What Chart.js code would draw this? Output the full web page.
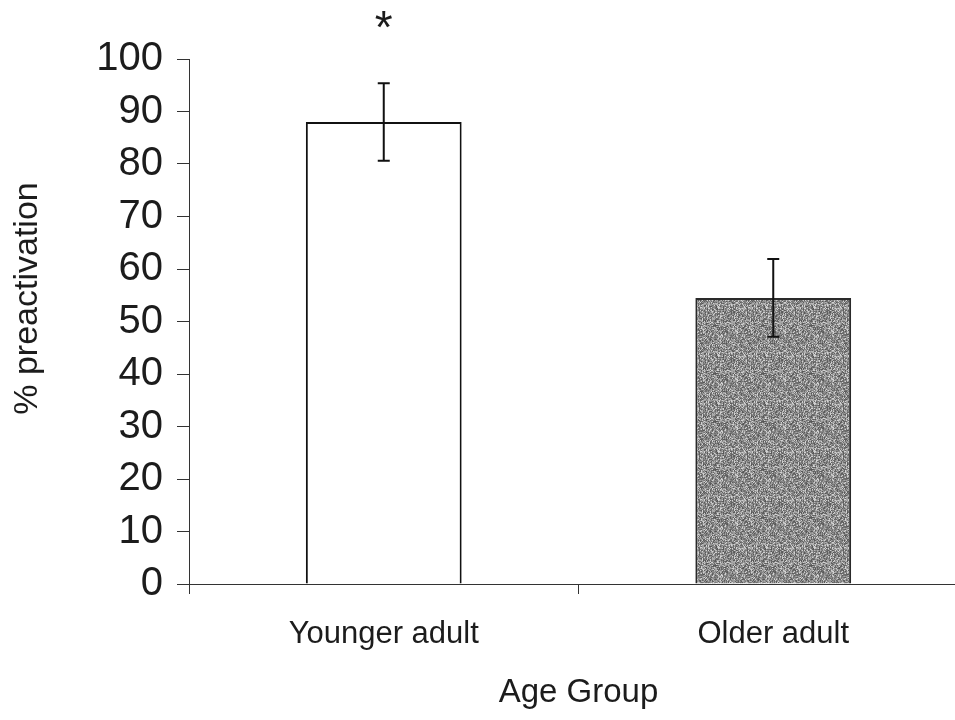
<!DOCTYPE html>
<html lang="en">
<head>
<meta charset="UTF-8">
<title>% preactivation by Age Group</title>
<style>
body { margin: 0; background: #fff; overflow: hidden; }
.chart-box { width: 968px; height: 720px; }
</style>
</head>
<body>
<div class="chart-box">
    <canvas id="ageChart" width="968" height="720"></canvas>
</div>
<script src="https://cdn.jsdelivr.net/npm/chart.js"></script>
<script>
// data
const groups = ['Younger adult', 'Older adult'];
const preactivation = [88, 54.5];
const errors = [7.4, 7.4];
const sigMarks = ['*', ''];
const yTicks = [0, 10, 20, 30, 40, 50, 60, 70, 80, 90, 100];
const yTitle = '% preactivation';

const FONT = "'Liberation Sans', Arial, sans-serif";
const INK = '#1c1c1c';

// grainy grey fill like the scanned bar (deterministic stipple)
function stipple() {
    const c = document.createElement('canvas');
    c.width = 48; c.height = 48;
    const g = c.getContext('2d');
    const img = g.createImageData(48, 48);
    for (let y = 0; y < 48; y++) {
        for (let x = 0; x < 48; x++) {
            let h = (x * 374761393 + y * 668265263) >>> 0;
            h = ((h ^ (h >>> 13)) * 1274126177) >>> 0;
            h = (h ^ (h >>> 16)) >>> 0;
            let v = 85 + (h % 100);
            if (h % 9 === 0) v = 210;
            const k = (y * 48 + x) * 4;
            img.data[k] = img.data[k + 1] = img.data[k + 2] = v;
            img.data[k + 3] = 255;
        }
    }
    g.putImageData(img, 0, 0);
    return g.createPattern(c, 'repeat');
}

// error bars + significance star
const errorBars = {
    id: 'errorBars',
    afterDatasetsDraw(chart) {
        const ctx = chart.ctx;
        const yScale = chart.scales.y;
        const bars = chart.getDatasetMeta(0).data;
        ctx.save();
        ctx.strokeStyle = '#111';
        ctx.lineWidth = 2;
        bars.forEach((bar, i) => {
            const top = yScale.getPixelForValue(preactivation[i] + errors[i]);
            const bot = yScale.getPixelForValue(preactivation[i] - errors[i]);
            ctx.beginPath();
            ctx.moveTo(bar.x, top); ctx.lineTo(bar.x, bot);
            ctx.moveTo(bar.x - 6, top); ctx.lineTo(bar.x + 6, top);
            ctx.moveTo(bar.x - 6, bot); ctx.lineTo(bar.x + 6, bot);
            ctx.stroke();
            if (sigMarks[i]) {
                ctx.fillStyle = INK;
                ctx.font = '46px ' + FONT;
                ctx.textAlign = 'center';
                ctx.textBaseline = 'alphabetic';
                ctx.fillText(sigMarks[i], bar.x, top - 40);
            }
        });
        ctx.restore();
    }
};

// y title sits a little above the middle of the axis in the original
const yAxisTitle = {
    id: 'yAxisTitle',
    afterDraw(chart) {
        const ctx = chart.ctx;
        const area = chart.chartArea;
        ctx.save();
        ctx.translate(28, (area.top + area.bottom) / 2 - 23);
        ctx.rotate(-Math.PI / 2);
        ctx.fillStyle = INK;
        ctx.font = '34px ' + FONT;
        ctx.textAlign = 'center';
        ctx.textBaseline = 'middle';
        ctx.fillText(yTitle, 0, 0);
        ctx.restore();
    }
};

new Chart(document.getElementById('ageChart'), {
    type: 'bar',
    data: {
        labels: groups,
        datasets: [{
            data: preactivation,
            backgroundColor: ['#ffffff', stipple()],
            borderColor: ['#111', '#2a2a2a'],
            borderWidth: 2,
            barPercentage: 0.4,
            categoryPercentage: 1.0
        }]
    },
    options: {
        responsive: false,
        animation: false,
        layout: { padding: { left: 8, top: 59, right: 0, bottom: 0 } },
        plugins: { legend: { display: false }, tooltip: { enabled: false } },
        scales: {
            x: {
                grid: { drawOnChartArea: false, tickLength: 10, color: '#333', offset: true },
                border: { color: '#333', width: 1 },
                ticks: { color: INK, font: { family: FONT, size: 31 }, padding: 22, maxRotation: 0 },
                title: { display: true, text: 'Age Group', color: INK, font: { family: FONT, size: 33 }, padding: { top: 0, bottom: 7 } },
                afterFit(scale) { scale.height = 136; }
            },
            y: {
                min: 0,
                max: 100,
                afterBuildTicks(scale) { scale.ticks = yTicks.map(v => ({ value: v })); },
                grid: { drawOnChartArea: false, tickLength: 12, color: '#333' },
                border: { color: '#333', width: 1 },
                ticks: { color: INK, font: { family: FONT, size: 40 }, padding: 14 },
                afterFit(scale) { scale.width = 181; }
            }
        }
    },
    plugins: [errorBars, yAxisTitle]
});
</script>
</body>
</html>
